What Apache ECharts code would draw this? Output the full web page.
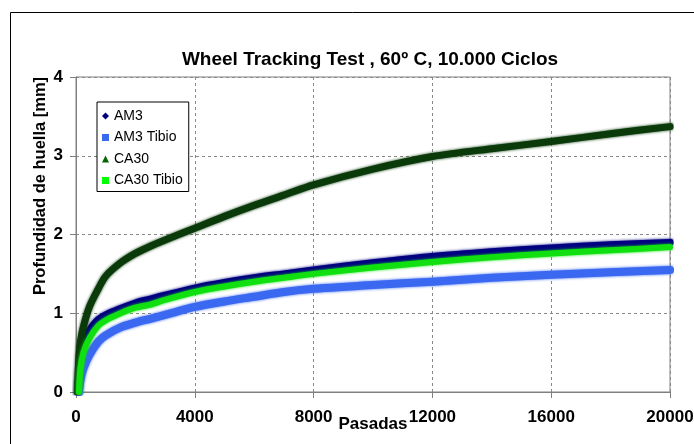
<!DOCTYPE html>
<html>
<head>
<meta charset="utf-8">
<script src="https://cdn.jsdelivr.net/npm/echarts@6/dist/echarts.min.js"></script>
<style>
html,body{margin:0;padding:0;background:#fff;}
#chart{width:694px;height:444px;}
</style>
</head>
<body>
<div id="chart"></div>
<script>
const titleText = 'Wheel Tracking Test , 60º C, 10.000 Ciclos';
const xName = 'Pasadas';
const yName = 'Profundidad de huella [mm]';
const seriesNames = ['AM3', 'AM3 Tibio', 'CA30', 'CA30 Tibio'];

const passes    = [50,   100,  150,  250,  450,  750,  1000, 1500, 2000, 2500, 3000, 4000, 5000, 6000, 7000, 8000, 10000, 12000, 14000, 16000, 18000, 20000];
const am3       = [0,    0.25, 0.40, 0.55, 0.78, 0.92, 0.98, 1.06, 1.13, 1.18, 1.23, 1.32, 1.39, 1.45, 1.50, 1.55, 1.64,  1.72,  1.78,  1.83,  1.87,  1.90];
const am3Tibio  = [null, 0,    0.15, 0.30, 0.47, 0.64, 0.72, 0.82, 0.88, 0.93, 0.98, 1.08, 1.15, 1.21, 1.27, 1.31, 1.36,  1.40,  1.45,  1.49,  1.52,  1.55];
const ca30      = [0,    0.45, 0.64, 0.83, 1.08, 1.31, 1.47, 1.64, 1.76, 1.85, 1.93, 2.08, 2.23, 2.37, 2.50, 2.63, 2.83,  2.99,  3.09,  3.18,  3.28,  3.37];
const ca30Tibio = [null, 0,    0.30, 0.50, 0.68, 0.84, 0.91, 1.00, 1.07, 1.11, 1.17, 1.27, 1.34, 1.40, 1.45, 1.50, 1.58,  1.65,  1.71,  1.76,  1.80,  1.84];

const xTicks = [0, 4000, 8000, 12000, 16000, 20000];
const yTicks = [0, 1, 2, 3, 4];

function pairs(vals) {
  return passes.map((p, i) => [p, vals[i]]);
}

const colors = {
  'AM3': '#000080',
  'AM3 Tibio': '#3a68f0',
  'CA30': '#0a3a0a',
  'CA30 Tibio': '#10e010'
};
const widths = { 'AM3': 7, 'AM3 Tibio': 8, 'CA30': 7, 'CA30 Tibio': 6 };
const icons = { 'AM3': 'diamond', 'AM3 Tibio': 'rect', 'CA30': 'triangle', 'CA30 Tibio': 'rect' };
const iconColors = { 'AM3': '#000080', 'AM3 Tibio': '#3a68f0', 'CA30': '#006600', 'CA30 Tibio': '#00ff00' };
const dataMap = { 'AM3': am3, 'AM3 Tibio': am3Tibio, 'CA30': ca30, 'CA30 Tibio': ca30Tibio };

const chart = echarts.init(document.getElementById('chart'));
const font = '"Liberation Sans", Arial, sans-serif';

chart.setOption({
  animation: false,
  backgroundColor: '#fff',
  textStyle: { fontFamily: font },
  title: {
    text: titleText,
    left: 365, top: 45,
    textAlign: 'center',
    textStyle: { fontSize: 19, fontWeight: 'bold', color: '#000', fontFamily: font }
  },
  graphic: [
    { type: 'rect', shape: { x: 10.5, y: 12.5, width: 720, height: 460 },
      style: { fill: 'none', stroke: '#000', lineWidth: 1 }, silent: true, z: -1 },
    { type: 'text', x: 40, y: 186, rotation: Math.PI / 2,
      style: { text: yName, font: 'bold 16.5px ' + font, fill: '#000', align: 'center', verticalAlign: 'middle' } }
  ],
  legend: {
    orient: 'vertical',
    left: 97, top: 102,
    padding: [7, 6, 4, 5],
    itemGap: 7.5,
    itemWidth: 7, itemHeight: 7,
    backgroundColor: '#fff',
    borderColor: '#000', borderWidth: 1,
    textStyle: { fontSize: 14, color: '#000', fontFamily: font },
    data: seriesNames.map(n => ({ name: n, icon: icons[n], itemStyle: { color: iconColors[n] } })),
    z: 10
  },
  grid: {
    left: 76, right: 24, top: 77, bottom: 52,
    outerBoundsMode: 'none',
    containLabel: false,
    show: true, borderColor: '#808080', borderWidth: 1, backgroundColor: '#fff'
  },
  xAxis: {
    type: 'value', min: xTicks[0], max: xTicks[xTicks.length - 1], interval: xTicks[1] - xTicks[0],
    name: xName, nameLocation: 'middle', nameGap: 24, nameMoveOverlap: false,
    nameTextStyle: { fontSize: 17, fontWeight: 'bold', color: '#000' },
    axisLine: { show: true, lineStyle: { color: '#808080', width: 1 } },
    axisTick: { show: true, length: 6, lineStyle: { color: '#808080' } },
    axisLabel: { fontSize: 17, fontWeight: 'bold', color: '#000', margin: 17, formatter: v => String(v), hideOverlap: false },
    splitLine: { show: true, lineStyle: { color: '#888', type: [3, 3], width: 1 } }
  },
  yAxis: {
    type: 'value', min: yTicks[0], max: yTicks[yTicks.length - 1], interval: 1,
    axisLine: { show: true, lineStyle: { color: '#808080', width: 1 } },
    axisTick: { show: true, length: 6, lineStyle: { color: '#808080' } },
    axisLabel: { fontSize: 17, fontWeight: 'bold', color: '#000', margin: 13 },
    splitLine: { show: true, lineStyle: { color: '#888', type: [3, 3], width: 1 } }
  },
  series: seriesNames.map(n => ({
    name: n, type: 'line',
    data: pairs(dataMap[n]),
    showSymbol: false, symbol: 'none',
    smooth: 0.3,
    itemStyle: { color: iconColors[n] },
    lineStyle: { color: colors[n], width: widths[n], shadowBlur: 3, shadowColor: colors[n], cap: 'round', join: 'round' },
    emphasis: { disabled: true }
  }))
});
</script>
</body>
</html>
